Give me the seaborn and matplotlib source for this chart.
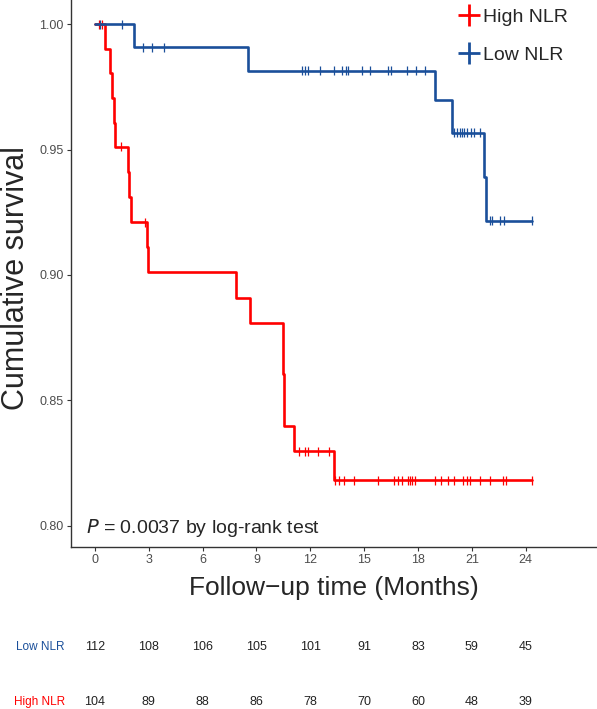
import numpy as np
import pandas as pd
import matplotlib
matplotlib.use('Agg')
import matplotlib.pyplot as plt
import matplotlib.transforms as mtransforms
from matplotlib.lines import Line2D
import seaborn as sns

# Kaplan-Meier steps (time in months, survival)
high_times = [0, 0.56, 0.84, 0.97, 1.08, 1.14, 1.86, 1.91, 1.99, 2.92, 2.97,
              7.85, 8.65, 10.45, 10.48, 10.51, 10.56, 11.07, 13.34, 24.33]
high_surv = [1.0, 0.990, 0.9804, 0.9705, 0.9608, 0.9512, 0.941, 0.931, 0.921, 0.911, 0.901,
             0.8907, 0.8807, 0.8705, 0.8603, 0.850, 0.8399, 0.8296, 0.818, 0.818]
low_times = [0, 2.18, 8.52, 18.96, 19.9, 21.7, 21.8, 24.33]
low_surv = [1.0, 0.9908, 0.9815, 0.9696, 0.9568, 0.939, 0.9216, 0.9216]

# censoring times
high_cens = [0.24, 0.37, 1.43, 2.81, 11.38, 11.72, 11.85, 12.42, 13.02,
             13.39, 13.6, 13.88, 14.41, 15.79, 16.64, 16.9, 17.11, 17.43, 17.53, 17.64,
             17.85, 18.92, 19.3, 19.66, 19.98, 20.51, 20.72, 20.89, 21.46, 21.99,
             22.74, 22.88, 24.33]
low_cens = [0.3, 1.5, 2.66, 3.2, 3.85, 11.53, 11.72, 11.85, 12.56, 13.3, 13.77, 13.99,
            14.08, 14.88, 15.35, 16.31, 16.5, 17.39, 17.86, 18.41,
            20.03, 20.18, 20.33, 20.46, 20.55, 20.74, 20.93, 21.1, 21.43,
            21.99, 22.13, 22.54, 22.78, 24.33]

# number at risk
risk_times = [0, 3, 6, 9, 12, 15, 18, 21, 24]
low_risk = [112, 108, 106, 105, 101, 91, 83, 59, 45]
high_risk = [104, 89, 88, 86, 78, 70, 60, 48, 39]

groups = ["High NLR", "Low NLR"]
colors = {"High NLR": "#FF0000", "Low NLR": "#1A4F9A"}


def step_value(times, surv, t):
    idx = np.searchsorted(times, t, side='right') - 1
    return np.asarray(surv)[idx]


curves = pd.concat([
    pd.DataFrame({"time": high_times, "surv": high_surv, "group": "High NLR"}),
    pd.DataFrame({"time": low_times, "surv": low_surv, "group": "Low NLR"}),
])
cens = pd.concat([
    pd.DataFrame({"time": high_cens, "surv": step_value(high_times, high_surv, high_cens),
                  "group": "High NLR"}),
    pd.DataFrame({"time": low_cens, "surv": step_value(low_times, low_surv, low_cens),
                  "group": "Low NLR"}),
])

sns.set_style("white")
plt.rcParams['font.family'] = ['Liberation Sans', 'DejaVu Sans']

fig = plt.figure(figsize=(5.97, 7.09), dpi=100)
ax = fig.add_axes([0.1184, 0.228, 0.8816, 0.772])

sns.lineplot(data=curves, x="time", y="surv", hue="group", palette=colors,
             estimator=None, drawstyle="steps-post", linewidth=1.9, legend=False, ax=ax)
sns.scatterplot(data=cens, x="time", y="surv", hue="group", palette=colors,
                marker="|", s=40, linewidth=0.9, legend=False, ax=ax)

ax.set_xlim(-1.35, 27.97)
ax.set_ylim(0.7913, 1.0097)
ax.set_xticks(risk_times)
ax.set_yticks([0.80, 0.85, 0.90, 0.95, 1.00])
ax.set_yticklabels(["0.80", "0.85", "0.90", "0.95", "1.00"])
ax.tick_params(axis='both', length=3, width=0.8, color="#333333", labelcolor="#4D4D4D",
               labelsize=9, pad=2, bottom=True, left=True)
for side in ["top", "right"]:
    ax.spines[side].set_visible(False)
for side in ["left", "bottom"]:
    ax.spines[side].set_color("#333333")
    ax.spines[side].set_linewidth(1.0)

ax.set_xlabel("Follow\u2212up time (Months)", fontsize=19, labelpad=7)
ax.set_ylabel("Cumulative survival", fontsize=22)
ax.yaxis.set_label_coords(-0.075, 0.492)

ax.text(-0.52, 0.799, "$P$ = 0.0037 by log-rank test", fontsize=14, va='center', ha='left')

handles = [Line2D([], [], color=colors[g], marker='+', markersize=16, mew=2, linestyle='none')
           for g in groups]
ax.legend(handles, groups, loc='upper left', bbox_to_anchor=(0.72, 1.002), frameon=False,
          fontsize=14, handlelength=1.0, handletextpad=0.2, labelspacing=1.05, borderpad=0)

# risk table
trans = mtransforms.blended_transform_factory(ax.transData, fig.transFigure)
rows = [("Low NLR", low_risk, 1 - 646.7 / 709), ("High NLR", high_risk, 1 - 701.7 / 709)]
for name, counts, yf in rows:
    fig.text(65 / 597, yf, name, color=colors[name], fontsize=8.5, ha='right', va='center')
    for t, n in zip(risk_times, counts):
        ax.text(t, yf, str(n), transform=trans, fontsize=9, ha='center', va='center',
                color="#222222")

fig.savefig("out.png", dpi=100)
